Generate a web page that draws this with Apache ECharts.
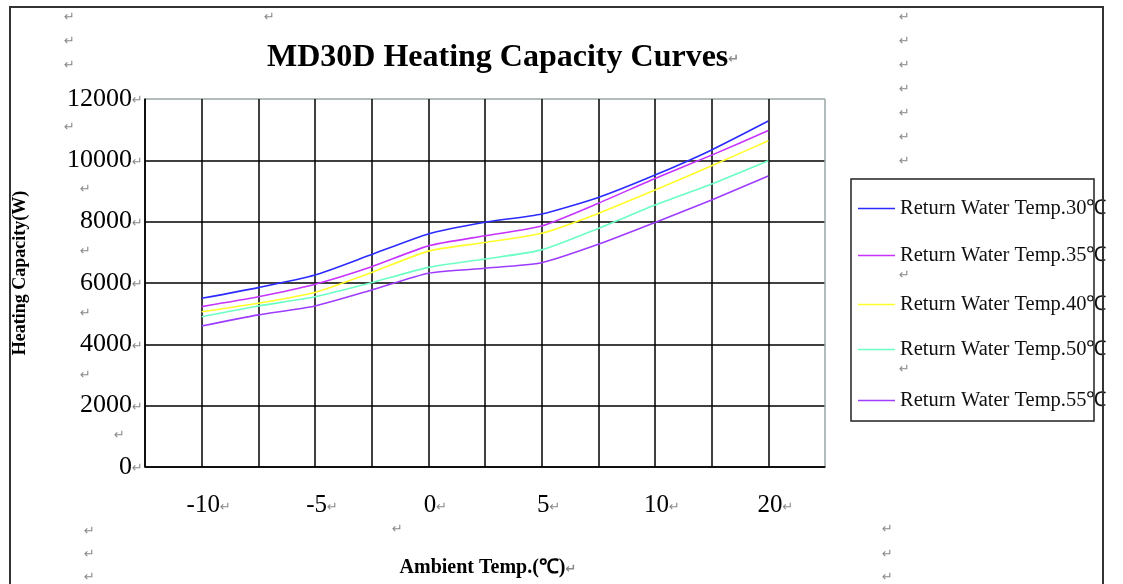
<!DOCTYPE html>
<html>
<head>
<meta charset="utf-8">
<script src="https://cdn.jsdelivr.net/npm/echarts@6/dist/echarts.min.js"></script>
<style>
html,body{margin:0;padding:0;background:#fff;}
#c{width:1123px;height:584px;}
</style>
</head>
<body>
<div id="c"></div>
<script>
// x slots: one empty slot at each end, labelled ticks every other slot
const xCategories = ['', '-10', '', '-5', '', '0', '', '5', '', '10', '', '20', ''];
const yTicks = [0, 2000, 4000, 6000, 8000, 10000, 12000];
const seriesNames = [
  'Return Water Temp.30℃',
  'Return Water Temp.35℃',
  'Return Water Temp.40℃',
  'Return Water Temp.50℃',
  'Return Water Temp.55℃'
];
const temp30 = [5500, 5850, 6260, 6930, 7600, 7980, 8250, 8790, 9520, 10340, 11280];
const temp35 = [5230, 5550, 5960, 6530, 7210, 7540, 7860, 8600, 9410, 10170, 10970];
const temp40 = [5060, 5340, 5690, 6340, 7040, 7320, 7620, 8270, 9030, 9820, 10640];
const temp50 = [4900, 5250, 5550, 6010, 6510, 6780, 7080, 7780, 8540, 9230, 9990];
const temp55 = [4600, 4960, 5250, 5770, 6320, 6480, 6660, 7260, 7970, 8710, 9490];
const seriesValues = [temp30, temp35, temp40, temp50, temp55];
const colors = ['#2b2bff', '#c633ff', '#ffff2a', '#6cffc4', '#9e3cff'];
const legendTops = [193, 240, 289, 334, 385];

const SERIF = '"Liberation Serif", "Times New Roman", serif';
const MARK = '#8a8a8a';
const markRich = { r: { color: MARK, fontSize: 13, fontFamily: 'DejaVu Sans', padding: [4, 0, 0, 0] } };

const chart = echarts.init(document.getElementById('c'));

const marks = [
  [64, 18], [64, 42], [64, 66], [264, 18],
  [899, 18], [899, 42], [899, 66], [899, 90], [899, 114], [899, 138], [899, 162],
  [64, 128], [80, 190], [80, 252], [80, 314], [80, 376], [114, 436],
  [84, 532], [84, 555], [84, 578], [392, 530], [882, 530], [882, 555], [882, 578],
  [899, 276], [899, 370]
];
const graphics = [
  { type: 'rect', shape: { x: 10, y: 7, width: 1093, height: 600 }, style: { fill: 'none', stroke: '#333', lineWidth: 2 }, z: 10 },
  { type: 'rect', shape: { x: 851, y: 179, width: 243, height: 242 }, style: { fill: 'none', stroke: '#222', lineWidth: 1.5 }, z: 10 }
].concat(marks.map(p => ({
  type: 'text', x: p[0], y: p[1],
  style: { text: '↵', fill: MARK, font: '13px "DejaVu Sans"', textVerticalAlign: 'middle' },
  z: 10
})));

const legends = seriesNames.map((n, i) => ({
  data: [n],
  left: 853,
  top: legendTops[i],
  orient: 'vertical',
  itemWidth: 37,
  itemHeight: 14,
  itemGap: 4,
  icon: 'path://M0,6 L37,6 L37,7.6 L0,7.6 Z',
  textStyle: { fontFamily: SERIF, fontSize: 20.5, color: '#111' },
  selectedMode: false
}));

chart.setOption({
  animation: false,
  backgroundColor: '#fff',
  title: {
    text: 'MD30D Heating Capacity Curves{r|↵}',
    left: 262,
    top: 37,
    textStyle: { fontFamily: SERIF, fontSize: 32, fontWeight: 'bold', color: '#000', rich: markRich }
  },
  legend: legends,
  grid: { left: 145, right: 298, top: 99, bottom: 117, containLabel: false },
  xAxis: {
    type: 'category',
    data: xCategories,
    boundaryGap: false,
    name: 'Ambient Temp.(℃){r|↵}',
    nameLocation: 'middle',
    nameGap: 91,
    nameTextStyle: { fontFamily: SERIF, fontSize: 20, fontWeight: 'bold', color: '#000', rich: markRich, padding: [0, 0, 0, 6] },
    axisLine: { lineStyle: { color: '#000', width: 1.5 } },
    axisTick: { show: false },
    axisLabel: {
      interval: 0,
      margin: 26,
      fontFamily: SERIF,
      fontSize: 25,
      color: '#000',
      padding: [0, 0, 0, 14],
      formatter: v => v === '' ? '' : v + '{r|↵}',
      rich: markRich
    },
    splitLine: {
      show: true,
      interval: 0,
      lineStyle: { color: ['#000','#000','#000','#000','#000','#000','#000','#000','#000','#000','#000','#000','#9aa6a6'], width: 1.5 }
    }
  },
  yAxis: {
    type: 'value',
    min: 0,
    max: 12000,
    interval: 2000,
    name: 'Heating Capacity(W)',
    nameLocation: 'middle',
    nameGap: 116,
    nameRotate: 90,
    nameTextStyle: { fontFamily: SERIF, fontSize: 18, fontWeight: 'bold', color: '#000', padding: [0, 0, 0, 20] },
    axisLine: { show: true, lineStyle: { color: '#000', width: 1.5 } },
    axisTick: { show: false },
    axisLabel: {
      margin: 2,
      fontFamily: SERIF,
      fontSize: 26,
      color: '#000',
      formatter: v => v + '{r|↵}',
      rich: markRich
    },
    splitLine: {
      show: true,
      lineStyle: { color: ['#000','#000','#000','#000','#000','#000','#9aa6a6'], width: 1.5 }
    }
  },
  graphic: graphics,
  series: seriesNames.map((n, i) => ({
    name: n,
    type: 'line',
    data: [null].concat(seriesValues[i], [null]),
    smooth: 0.2,
    showSymbol: false,
    symbol: 'none',
    lineStyle: { color: colors[i], width: 1.6 },
    itemStyle: { color: colors[i] },
    z: 5
  }))
});
</script>
</body>
</html>
